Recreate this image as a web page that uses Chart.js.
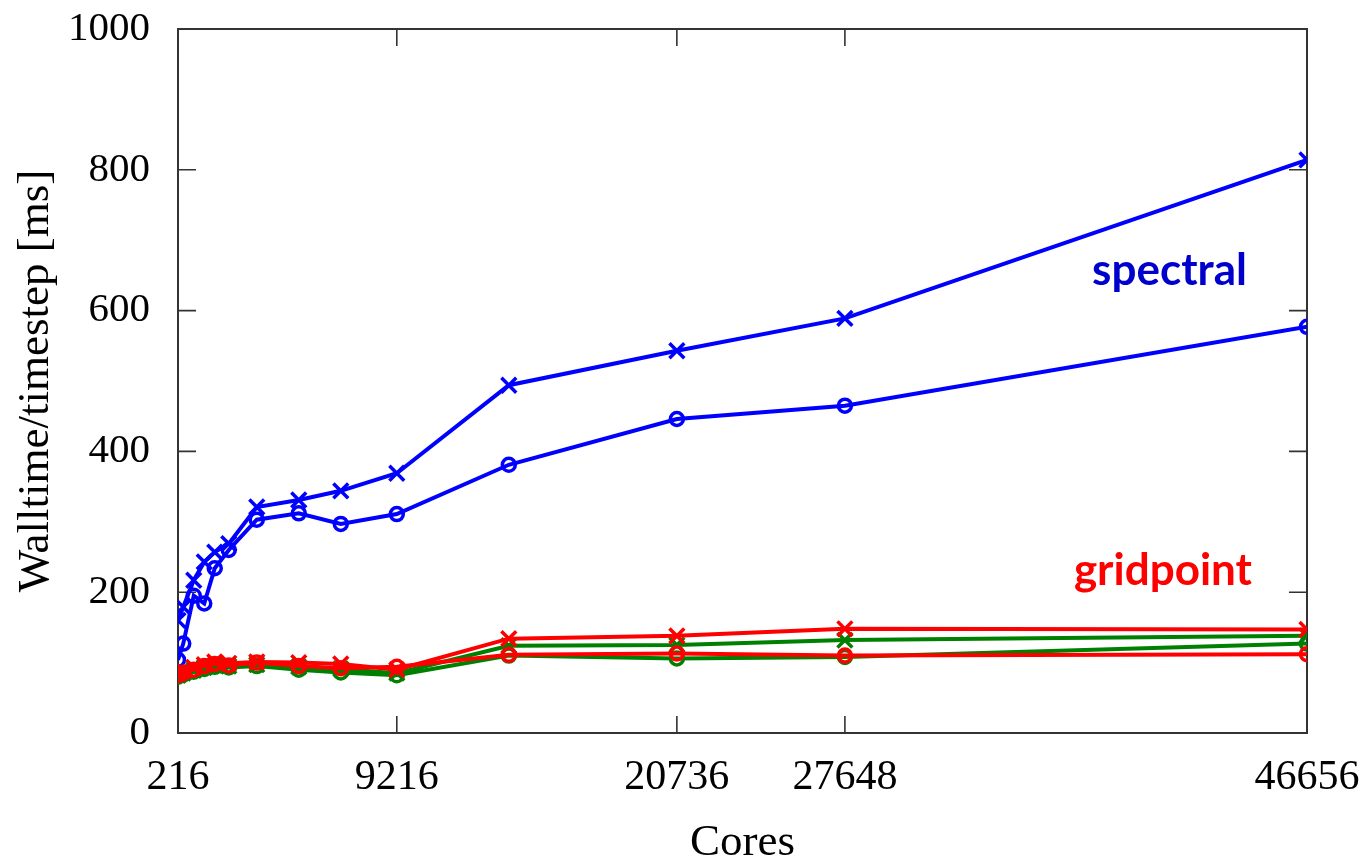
<!DOCTYPE html>
<html>
<head>
<meta charset="utf-8">
<title>Walltime per timestep</title>
<script src="https://cdn.jsdelivr.net/npm/chart.js"></script>
<style>
  html, body { margin: 0; padding: 0; background: #fff; }
  canvas { display: block; }
</style>
</head>
<body>
<canvas id="chart" width="1362" height="862"></canvas>
<script>
// cores on the x axis
const cores = [216, 432, 864, 1296, 1728, 2304, 3456, 5184, 6912, 9216, 13824, 20736, 27648, 46656];
const xTicks = [216, 9216, 20736, 27648, 46656];

// walltime per timestep [ms]
const spectralCross = [160, 179, 217, 243, 257, 269, 321, 331, 344, 369, 494, 543, 589, 814];
const spectralCircle = [104, 127, 195, 184, 234, 260, 303, 312, 297, 311, 381, 446, 465, 577];
const gridCross = [84, 88, 93, 97, 101, 99, 101, 100, 98, 90, 134, 138, 148, 147];
const gridCircle = [82, 86, 90, 95, 98, 96, 100, 95, 92, 94, 111, 113, 110, 112];
const greenCross = [82, 85, 89, 93, 96, 95, 97, 94, 91, 85, 124, 125, 132, 138];
const greenCircle = [80, 83, 87, 91, 94, 93, 95, 90, 86, 82, 110, 106, 108, 127];

const notes = [
  { text: 'spectral', x: 41000, y: 636, color: '#0000cc' },
  { text: 'gridpoint', x: 40730, y: 210, color: '#ff0000' }
];

const serif = '"Liberation Serif", "Times New Roman", serif';

function series(values, color, style, order) {
  return {
    data: cores.map((c, i) => ({ x: c, y: values[i] })),
    borderColor: color,
    backgroundColor: color,
    borderWidth: 4,
    pointStyle: style,
    pointRadius: style === 'circle' ? 6.5 : 10.5,
    pointBorderWidth: 3.5,
    pointBorderColor: color,
    pointBackgroundColor: 'rgba(0,0,0,0)',
    tension: 0,
    order: order
  };
}

// gnuplot style frame with inward ticks on all four sides
const frame = {
  id: 'frame',
  beforeDatasetsDraw(chart) {
    const { ctx, chartArea: a, scales: { x, y } } = chart;
    ctx.save();
    ctx.strokeStyle = '#333';
    ctx.lineWidth = 2;
    ctx.strokeRect(a.left, a.top, a.right - a.left, a.bottom - a.top);
    ctx.lineWidth = 1.6;
    ctx.beginPath();
    x.ticks.forEach(t => {
      const px = x.getPixelForValue(t.value);
      if (px <= a.left + 1 || px >= a.right - 1) return;
      ctx.moveTo(px, a.bottom); ctx.lineTo(px, a.bottom - 17);
      ctx.moveTo(px, a.top); ctx.lineTo(px, a.top + 17);
    });
    y.ticks.forEach(t => {
      const py = y.getPixelForValue(t.value);
      if (py <= a.top + 1 || py >= a.bottom - 1) return;
      ctx.moveTo(a.left, py); ctx.lineTo(a.left + 18, py);
      ctx.moveTo(a.right, py); ctx.lineTo(a.right - 18, py);
    });
    ctx.stroke();
    ctx.restore();
  }
};

const labels = {
  id: 'labels',
  afterDatasetsDraw(chart) {
    const { ctx, scales: { x, y } } = chart;
    ctx.save();
    ctx.font = 'bold 44px Lato, "Open Sans", sans-serif';
    ctx.textAlign = 'center';
    ctx.textBaseline = 'alphabetic';
    notes.forEach(n => {
      ctx.fillStyle = n.color;
      ctx.fillText(n.text, x.getPixelForValue(n.x), y.getPixelForValue(n.y));
    });
    ctx.restore();
  }
};

// no extra room for overhanging tick labels, the layout padding decides the plot box
function noOverhang(s) {
  s.paddingLeft = 0; s.paddingRight = 0; s.paddingTop = 0; s.paddingBottom = 0;
}

new Chart(document.getElementById('chart'), {
  type: 'line',
  data: {
    datasets: [
      series(spectralCross, '#0000ff', 'crossRot', 2),
      series(spectralCircle, '#0000ff', 'circle', 2),
      series(greenCross, '#008000', 'crossRot', 1),
      series(greenCircle, '#008000', 'circle', 1),
      series(gridCross, '#ff0000', 'crossRot', 0),
      series(gridCircle, '#ff0000', 'circle', 0)
    ]
  },
  options: {
    responsive: false,
    animation: false,
    layout: { padding: { top: 29, right: 55, left: 0, bottom: 0 } },
    plugins: { legend: { display: false }, tooltip: { enabled: false } },
    scales: {
      x: {
        type: 'linear',
        min: 216,
        max: 46656,
        afterBuildTicks: s => { s.ticks = xTicks.map(v => ({ value: v })); },
        afterFit: s => { s.height = 129; noOverhang(s); },
        grid: { display: false, drawTicks: false },
        border: { display: false },
        ticks: {
          padding: 20, color: '#000', maxRotation: 0, autoSkip: false,
          font: { family: serif, size: 42 },
          callback: v => String(v)
        },
        title: {
          display: true, text: 'Cores', color: '#000',
          font: { family: serif, size: 45, lineHeight: 1 },
          padding: { top: 0, bottom: -4 }
        }
      },
      y: {
        min: 0,
        max: 1000,
        afterFit: s => { s.width = 178; noOverhang(s); },
        grid: { display: false, drawTicks: false },
        border: { display: false },
        ticks: {
          stepSize: 200, padding: 28, color: '#000',
          font: { family: serif, size: 41 },
          callback: v => String(v)
        },
        title: {
          display: true, text: 'Walltime/timestep [ms]', color: '#000',
          font: { family: serif, size: 45, lineHeight: 1 },
          padding: { top: 14, bottom: 0 }
        }
      }
    }
  },
  plugins: [frame, labels]
});
</script>
</body>
</html>
